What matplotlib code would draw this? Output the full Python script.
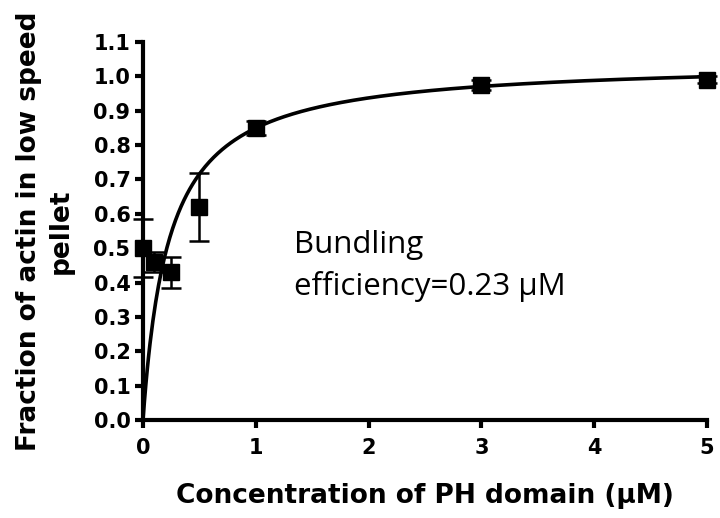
import numpy as np
import matplotlib
matplotlib.use("Agg")
import matplotlib.pyplot as plt

# data
conc = [0.0, 0.1, 0.25, 0.5, 1.0, 3.0, 5.0]
frac = [0.50, 0.46, 0.43, 0.62, 0.85, 0.975, 0.99]
err = [0.085, 0.03, 0.045, 0.10, 0.02, 0.015, 0.01]
# hyperbolic fit parameters (Bmax, Kd)
bmax = 1.045
kd = 0.23
xticks = [0, 1, 2, 3, 4, 5]
yticks = [0.0, 0.1, 0.2, 0.3, 0.4, 0.5, 0.6, 0.7, 0.8, 0.9, 1.0, 1.1]

plt.rcParams['font.family'] = ['DejaVu Sans']
fig = plt.figure(figsize=(7.2, 5.18), dpi=100)
ax = fig.add_axes([0.1986, 0.189, 0.7834, 0.730])

xf = np.linspace(0, 5, 400)
ax.plot(xf, bmax * xf / (kd + xf), color='black', lw=2.6, zorder=2)
ax.errorbar(conc, frac, yerr=err, fmt='s', color='black', ms=11,
            elinewidth=1.8, capsize=7, capthick=1.8, zorder=3, clip_on=False)

ax.set_xlim(0, 5)
ax.set_ylim(0, 1.1)
ax.set_xticks(xticks)
ax.set_yticks(yticks)
ax.set_xticklabels([str(t) for t in xticks])
ax.set_yticklabels([f"{t:.1f}" for t in yticks])
for s in ['top', 'right']:
    ax.spines[s].set_visible(False)
for s in ['left', 'bottom']:
    ax.spines[s].set_linewidth(3)
ax.tick_params(direction='out', length=6, width=3, labelsize=15)
ax.tick_params(axis='x', pad=7)
ax.tick_params(axis='y', pad=3)
for lab in ax.get_xticklabels() + ax.get_yticklabels():
    lab.set_fontweight('bold')

ax.set_xlabel('Concentration of PH domain (μM)', fontsize=19, fontweight='bold', labelpad=18)
ax.set_ylabel('Fraction of actin in low speed\npellet', fontsize=19, fontweight='bold',
              labelpad=14, linespacing=1.3)

ann_font = ['Open Sans', 'DejaVu Sans']
ax.text(1.34, 0.486, 'Bundling', fontsize=22.5, family=ann_font, va='baseline', ha='left')
ax.text(1.34, 0.364, 'efficiency=0.23 μM', fontsize=22.5, family=ann_font, va='baseline', ha='left')

fig.savefig('out.png', dpi=100)
